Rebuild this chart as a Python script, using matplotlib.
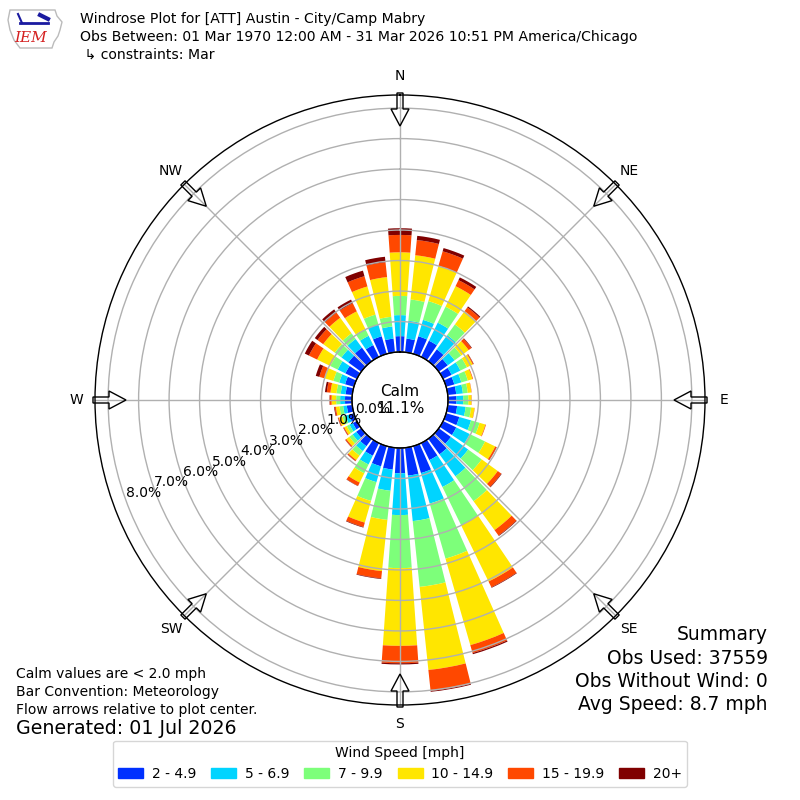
import numpy as np
import matplotlib
matplotlib.use('Agg')
import matplotlib.pyplot as plt
from matplotlib.patches import FancyArrow, Patch, Polygon

# direction bin centres (deg, meteorological) and speed bins
directions = np.arange(0, 360, 10)
speed_labels = ['2 - 4.9', '5 - 6.9', '7 - 9.9', '10 - 14.9', '15 - 19.9', '20+']
speed_colors = ['#0030ff', '#00d4ff', '#7dff7a', '#ffe600', '#ff4800', '#800000']

# percent of obs per direction, one list per speed bin
spd_2_5 = [0.52, 0.45, 0.60, 0.59, 0.48, 0.36, 0.31, 0.28, 0.28, 0.28, 0.31, 0.45,
           0.48, 0.49, 0.63, 0.62, 0.92, 0.92, 0.83, 0.72, 0.69, 0.46, 0.30, 0.20,
           0.15, 0.16, 0.18, 0.23, 0.22, 0.30, 0.42, 0.52, 0.55, 0.43, 0.60, 0.45]
spd_5_7 = [0.69, 0.59, 0.56, 0.66, 0.58, 0.28, 0.32, 0.24, 0.22, 0.22, 0.28, 0.40,
           0.49, 0.70, 0.89, 0.98, 1.04, 1.50, 1.37, 0.70, 0.54, 0.32, 0.20, 0.15,
           0.12, 0.12, 0.12, 0.16, 0.16, 0.20, 0.28, 0.28, 0.35, 0.34, 0.40, 0.40]
spd_7_10 = [0.63, 0.70, 0.64, 0.58, 0.43, 0.27, 0.24, 0.22, 0.16, 0.17, 0.18, 0.29,
            0.56, 0.55, 1.01, 1.40, 1.88, 2.17, 1.74, 0.96, 0.64, 0.32, 0.18, 0.13,
            0.10, 0.11, 0.12, 0.13, 0.14, 0.20, 0.27, 0.27, 0.23, 0.25, 0.34, 0.32]
spd_10_15 = [1.43, 1.46, 1.20, 0.75, 0.54, 0.30, 0.21, 0.16, 0.12, 0.10, 0.11, 0.20,
             0.37, 0.65, 1.17, 2.05, 2.95, 2.74, 2.55, 1.69, 0.74, 0.34, 0.18, 0.12,
             0.09, 0.12, 0.12, 0.15, 0.20, 0.30, 0.48, 0.47, 0.63, 0.64, 0.96, 1.31]
spd_15_20 = [0.57, 0.50, 0.50, 0.22, 0.15, 0.11, 0.03, 0.02, 0.01, 0.01, 0.01, 0.02,
             0.05, 0.14, 0.22, 0.21, 0.27, 0.69, 0.57, 0.24, 0.15, 0.12, 0.04, 0.04,
             0.03, 0.03, 0.04, 0.06, 0.12, 0.18, 0.30, 0.23, 0.21, 0.30, 0.35, 0.49]
spd_20_up = [0.22, 0.14, 0.11, 0.10, 0.04, 0.02, 0.01, 0.00, 0.00, 0.00, 0.00, 0.00,
             0.01, 0.02, 0.02, 0.02, 0.04, 0.03, 0.04, 0.02, 0.02, 0.01, 0.01, 0.01,
             0.01, 0.01, 0.02, 0.01, 0.06, 0.12, 0.15, 0.11, 0.13, 0.13, 0.19, 0.18]

calm_pct = 11.1
rticks = np.arange(0, 9)

fig = plt.figure(figsize=(8, 8), dpi=100)
ax = fig.add_axes([0.11875, 0.11875, 0.7625, 0.7625], projection='polar')
ax.set_theta_zero_location('N')
ax.set_theta_direction(-1)

theta = np.deg2rad(directions)
bottom = np.zeros(len(directions))
series = [spd_2_5, spd_5_7, spd_7_10, spd_10_15, spd_15_20, spd_20_up]
for vals, col, lab in zip(series, speed_colors, speed_labels):
    vals = np.array(vals)
    ax.bar(theta, vals, width=np.deg2rad(8), bottom=bottom, color=col,
           linewidth=0, label=lab, zorder=1)
    bottom = bottom + vals

ax.set_ylim(0, 8.43)
ax.set_rorigin(-1.574)
ax.set_rticks(rticks)
ax.set_yticklabels([])
ax.set_thetagrids(range(0, 360, 45), labels=[''] * 8)
ax.grid(True, color='#b0b0b0', lw=1)
ax.spines['polar'].set_linewidth(1)

# calm circle
tt = np.linspace(0, 2 * np.pi, 360)
ax.plot(tt, np.zeros_like(tt), color='k', lw=1, zorder=3, clip_on=False)
fig.text(0.5, 0.5, 'Calm\n%.1f%%' % calm_pct, ha='center', va='center',
         fontsize=11, linespacing=1.1)

# radial labels
for r in rticks:
    ax.text(np.deg2rad(250), r, '%.1f%%' % r, ha='left', va='bottom', fontsize=10, zorder=4)

# compass labels + flow arrows
compass = ['N', 'NE', 'E', 'SE', 'S', 'SW', 'W', 'NW']
for i, lab in enumerate(compass):
    a = np.deg2rad(i * 45)
    sx, sy = np.sin(a), np.cos(a)
    fig.text(0.5 + 324 / 800 * sx, 0.5 + 324 / 800 * sy, lab, ha='center', va='center', fontsize=10)
    x0, y0 = 0.5 + 307 / 800 * sx, 0.5 + 307 / 800 * sy
    L = 33 / 800
    arr = FancyArrow(x0, y0, -L * sx, -L * sy, width=6 / 800, head_width=18 / 800,
                     head_length=17 / 800, length_includes_head=True,
                     transform=fig.transFigure, facecolor='none', edgecolor='k', lw=1)
    fig.patches.append(arr)

# rough IEM logo (state outline + station glyph + text)
px = lambda x, y: (x / 800, 1 - y / 800)
outline = [px(10, 10), px(55, 10), px(57, 16), px(62, 22), px(60, 30), px(58, 36),
           px(54, 42), px(52, 48), px(20, 48), px(14, 40), px(10, 30), px(8, 20)]
fig.patches.append(Polygon(outline, closed=True, transform=fig.transFigure,
                           facecolor='none', edgecolor='#bbbbbb', lw=1))
fig.lines.append(plt.Line2D([20 / 800, 48 / 800], [1 - 23 / 800, 1 - 23 / 800],
                            transform=fig.transFigure, color='#1a1aa0', lw=2))
fig.lines.append(plt.Line2D([18 / 800, 22 / 800], [1 - 14 / 800, 1 - 23 / 800],
                            transform=fig.transFigure, color='#1a1aa0', lw=1.5))
fig.lines.append(plt.Line2D([40 / 800, 48 / 800], [1 - 15 / 800, 1 - 19 / 800],
                            transform=fig.transFigure, color='#1a1aa0', lw=3))
fig.text(14 / 800, 1 - 38 / 800, 'IEM', color='#d42020', fontstyle='italic',
         family='DejaVu Serif', fontsize=11, va='center')

# header
fig.text(0.1, 1 - 19 / 800, 'Windrose Plot for [ATT] Austin - City/Camp Mabry', va='center', fontsize=10.1)
fig.text(0.1, 1 - 37 / 800, 'Obs Between: 01 Mar 1970 12:00 AM - 31 Mar 2026 10:51 PM America/Chicago',
         va='center', fontsize=10.1)
fig.text(0.1, 1 - 55 / 800, ' \u21b3 constraints: Mar', va='center', fontsize=10.1)

# footer notes
fig.text(0.02, 1 - 674 / 800, 'Calm values are < 2.0 mph', va='center', fontsize=10)
fig.text(0.02, 1 - 692 / 800, 'Bar Convention: Meteorology', va='center', fontsize=10)
fig.text(0.02, 1 - 710 / 800, 'Flow arrows relative to plot center.', va='center', fontsize=10)
fig.text(0.02, 1 - 729 / 800, 'Generated: 01 Jul 2026', va='center', fontsize=13.7)

summary = ['Summary', 'Obs Used: 37559', 'Obs Without Wind: 0', 'Avg Speed: 8.7 mph']
for i, s in enumerate(summary):
    fig.text(0.96, 1 - (635 + 23.3 * i) / 800, s, ha='right', va='center', fontsize=13.5)

handles = [Patch(color=c, label=l) for c, l in zip(speed_colors, speed_labels)]
fig.legend(handles=handles, ncol=6, loc='lower center', bbox_to_anchor=(0.5, 0.008),
           title='Wind Speed [mph]', fontsize=10, title_fontsize=10, handlelength=1.8,
           handletextpad=0.6, columnspacing=1.1)

fig.savefig('out.png', dpi=100)
